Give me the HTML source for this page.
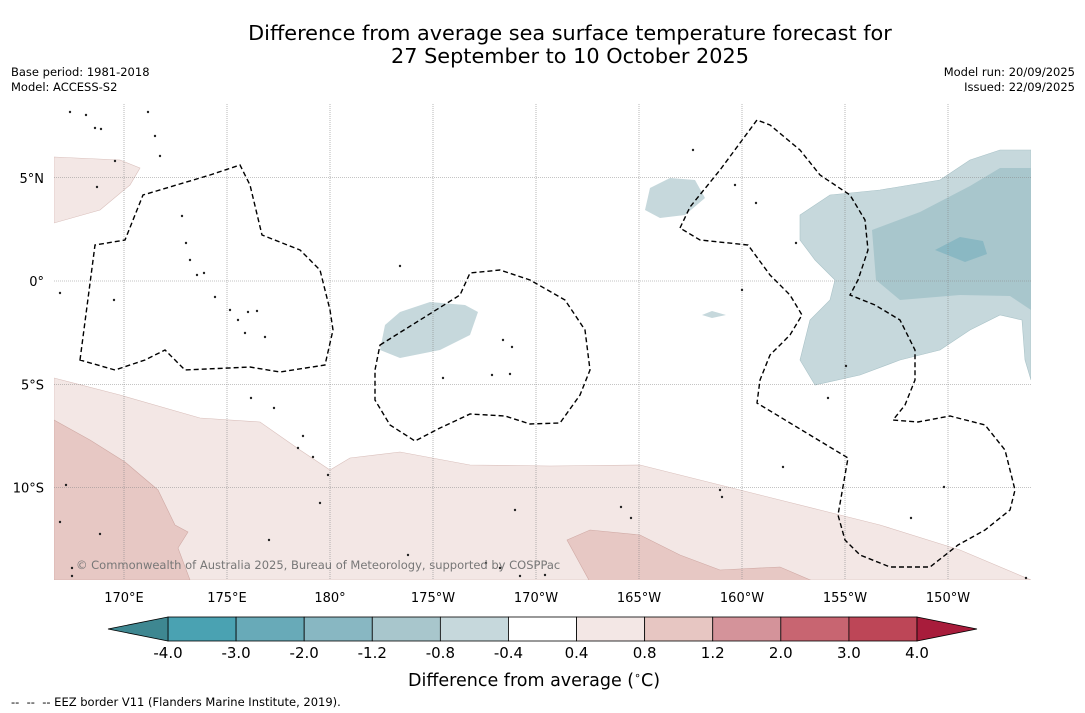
<!DOCTYPE html>
<html><head><meta charset="utf-8">
<style>
body{margin:0;background:#fff;font-family:"DejaVu Sans","Liberation Sans",sans-serif;}
#wrap{position:relative;width:1085px;height:713px;overflow:hidden;background:#fff;}
.t{position:absolute;color:#000;white-space:nowrap;}
svg text{font-family:"DejaVu Sans","Liberation Sans",sans-serif;}
</style></head>
<body>
<div id="wrap">
<div class="t" style="left:0;width:1140px;top:22px;text-align:center;font-size:20.8px;line-height:23px;">Difference from average sea surface temperature forecast for<br>27 September to 10 October 2025</div>
<div class="t" style="left:11px;top:65px;font-size:11.5px;line-height:15px;">Base period: 1981-2018<br>Model: ACCESS-S2</div>
<div class="t" style="right:10px;top:65px;font-size:11.5px;line-height:15px;text-align:right;">Model run: 20/09/2025<br>Issued: 22/09/2025</div>

<svg id="map" width="1085" height="713" style="position:absolute;left:0;top:0">
<defs><clipPath id="mc"><rect x="54" y="104" width="977" height="476"/></clipPath></defs>
<g clip-path="url(#mc)">
<path fill="#f3e7e5" stroke="#d9bfbb" stroke-width="0.6" d="M54,378 L120,395 L200,418 L260,422 L300,450 L330,470 L350,458 L400,452 L470,465 L550,466 L640,465 L700,480 L760,495 L820,510 L880,525 L960,550 L1031,580 L54,580 Z"/>
<path fill="#e7c8c4" stroke="#cfa9a4" stroke-width="0.6" d="M54,420 L90,440 L125,462 L158,490 L175,525 L188,532 L178,548 L190,580 L54,580 Z"/>
<path fill="#e7c8c4" stroke="#cfa9a4" stroke-width="0.6" d="M567,540 L590,530 L640,535 L680,555 L720,570 L780,567 L815,582 L590,582 Z"/>
<path fill="#f3e7e5" stroke="#d9bfbb" stroke-width="0.6" d="M54,157 L120,160 L140,168 L130,185 L100,210 L54,223 Z"/>
<path fill="#c6d8dc" stroke="#aac3c8" stroke-width="0.6" d="M800,215 L830,195 L880,190 L940,180 L970,160 L1000,150 L1031,150 L1031,380 L1025,360 L1022,320 L1000,315 L970,330 L940,350 L900,360 L860,375 L815,385 L800,360 L810,320 L830,300 L835,280 L815,260 L800,240 Z"/>
<path fill="#a8c6cc" d="M872,230 L920,212 L970,186 L1000,168 L1031,168 L1031,310 L1010,296 L960,295 L900,300 L876,280 Z"/>
<path fill="#8ab8c3" d="M935,250 L960,237 L983,241 L987,254 L965,262 Z"/>
<path fill="#c6d8dc" d="M650,188 L670,178 L695,180 L705,198 L685,215 L660,218 L645,210 Z"/>
<path fill="#c6d8dc" d="M385,325 L400,312 L430,302 L465,305 L478,312 L470,335 L440,350 L400,358 L380,350 Z"/>
<path fill="#c6d8dc" d="M702,315 L712,311 L726,315 L712,318 Z"/>
</g>
<g id="grid" stroke="#888" stroke-width="0.6" stroke-dasharray="1,1"></g>
<g id="eez" fill="none" stroke="#000" stroke-width="1.4" stroke-dasharray="5,3">
<path d="M80,360 L95,245 L125,240 L143,195 L210,175 L240,165 L250,185 L262,235 L300,250 L320,270 L330,310 L333,330 L325,365 L280,372 L250,367 L185,370 L165,350 L145,360 L115,370 Z"/>
<path d="M380,345 L460,295 L470,273 L500,270 L530,280 L565,300 L585,330 L590,370 L580,395 L560,423 L530,424 L505,416 L470,414 L440,428 L415,441 L390,425 L375,400 L375,370 Z"/>
<path d="M680,228 L690,207 L720,170 L757,120 L770,125 L800,150 L820,175 L850,195 L865,220 L868,250 L858,280 L850,295 L875,305 L900,320 L915,350 L915,380 L905,405 L893,420 L918,422 L950,416 L985,425 L1005,450 L1015,490 L1010,510 L985,530 L958,545 L930,567 L890,567 L860,555 L845,540 L838,515 L848,458 L757,403 L760,380 L770,355 L790,335 L802,315 L790,295 L770,275 L748,245 L700,240 Z"/>
</g>
<g id="isl" fill="#222"></g>
<g id="axlabels" font-size="13" fill="#000"></g>
<g id="cbar"></g>
</svg>
<div class="t" style="left:76px;top:558px;font-size:11.5px;color:#777;">© Commonwealth of Australia 2025, Bureau of Meteorology, supported by COSPPac</div>
<div class="t" style="left:408px;top:669px;font-size:17.5px;">Difference from average (<sup style="font-size:11px">∘</sup>C)</div>
<div class="t" style="left:11px;top:695px;font-size:11.5px;">-- &nbsp;-- &nbsp;-- EEZ border V11 (Flanders Marine Institute, 2019).</div>
</div>
<script>
const NS='http://www.w3.org/2000/svg';
const lonTicks=[170,175,180,-175,-170,-165,-160,-155,-150];
const lonLabels=['170°E','175°E','180°','175°W','170°W','165°W','160°W','155°W','150°W'];
const latTicks=[5,0,-5,-10];
const latLabels=['5°N','0°','5°S','10°S'];
const levels=[-4.0,-3.0,-2.0,-1.2,-0.8,-0.4,0.4,0.8,1.2,2.0,3.0,4.0];
const levelLabels=['-4.0','-3.0','-2.0','-1.2','-0.8','-0.4','0.4','0.8','1.2','2.0','3.0','4.0'];
const binColors=['#4aa2b2','#68aab8','#88b7c2','#a8c6cc','#c6d8dc','#ffffff','#f3e7e5','#e7c6c2','#d4939a','#c86571','#bd4657'];
const islands=[[70,112],[86,115],[95,128],[101,129],[148,112],[155,136],[160,156],[115,161],[97,187],[182,216],[186,243],[190,260],[197,275],[204,273],[215,297],[230,310],[238,320],[248,312],[257,311],[245,333],[265,337],[60,293],[114,300],[400,266],[503,340],[512,347],[492,375],[510,374],[443,378],[251,398],[274,408],[303,436],[298,448],[313,457],[328,475],[320,503],[66,485],[60,522],[100,534],[269,540],[408,555],[72,568],[72,576],[486,563],[500,568],[520,576],[545,575],[693,150],[735,185],[756,203],[796,243],[742,290],[828,398],[846,366],[783,467],[720,490],[722,497],[621,507],[631,518],[515,510],[911,518],[944,487],[1026,578]];
function lonX(l){let d=l<0?l+360:l;return 124+(d-170)*20.6;}
function latY(l){return 281-l*20.65;}
const grid=document.getElementById('grid'),ax=document.getElementById('axlabels');
lonTicks.forEach((lo,i)=>{
 const x=lonX(lo);
 const ln=document.createElementNS(NS,'line');
 
 
 ln.setAttribute('x1',x);ln.setAttribute('x2',x);ln.setAttribute('y1',104);ln.setAttribute('y2',580);grid.appendChild(ln);
 const t=document.createElementNS(NS,'text');
 
 
 t.setAttribute('x',x);t.setAttribute('y',602);t.setAttribute('text-anchor','middle');t.textContent=lonLabels[i];ax.appendChild(t);
});
latTicks.forEach((la,i)=>{
 const y=latY(la);
 const ln=document.createElementNS(NS,'line');
 
 
 ln.setAttribute('x1',54);ln.setAttribute('x2',1031);ln.setAttribute('y1',y);ln.setAttribute('y2',y);grid.appendChild(ln);
 const t=document.createElementNS(NS,'text');
 
 
 t.setAttribute('x',44);t.setAttribute('y',y+5);t.setAttribute('text-anchor','end');t.textContent=latLabels[i];ax.appendChild(t);
});
const isl=document.getElementById('isl');
islands.forEach(p=>{const c=document.createElementNS(NS,'circle');
 
 
 c.setAttribute('cx',p[0]);c.setAttribute('cy',p[1]);c.setAttribute('r',1.2);isl.appendChild(c);});
const cb=document.getElementById('cbar');
const cx0=168,cx1=917,cy=617,ch=24,bw=(cx1-cx0)/(levels.length-1);
binColors.forEach((col,i)=>{const r=document.createElementNS(NS,'rect');
 
 
 r.setAttribute('x',cx0+i*bw);r.setAttribute('y',cy);r.setAttribute('width',bw);r.setAttribute('height',ch);
 r.setAttribute('fill',col);r.setAttribute('stroke','#000');r.setAttribute('stroke-width','0.8');cb.appendChild(r);});
const lt=document.createElementNS(NS,'polygon');


lt.setAttribute('points',`${cx0},${cy} 108,${cy+ch/2} ${cx0},${cy+ch}`);lt.setAttribute('fill','#3e8791');lt.setAttribute('stroke','#000');lt.setAttribute('stroke-width','0.8');cb.appendChild(lt);
const rt=document.createElementNS(NS,'polygon');


rt.setAttribute('points',`${cx1},${cy} 977,${cy+ch/2} ${cx1},${cy+ch}`);rt.setAttribute('fill','#a81c3b');rt.setAttribute('stroke','#000');rt.setAttribute('stroke-width','0.8');cb.appendChild(rt);
levels.forEach((v,i)=>{const t=document.createElementNS(NS,'text');
 
 
 t.setAttribute('x',cx0+i*bw);t.setAttribute('y',658);t.setAttribute('text-anchor','middle');t.setAttribute('font-size','15');
 t.textContent=levelLabels[i];cb.appendChild(t);});
</script>
</body></html>
